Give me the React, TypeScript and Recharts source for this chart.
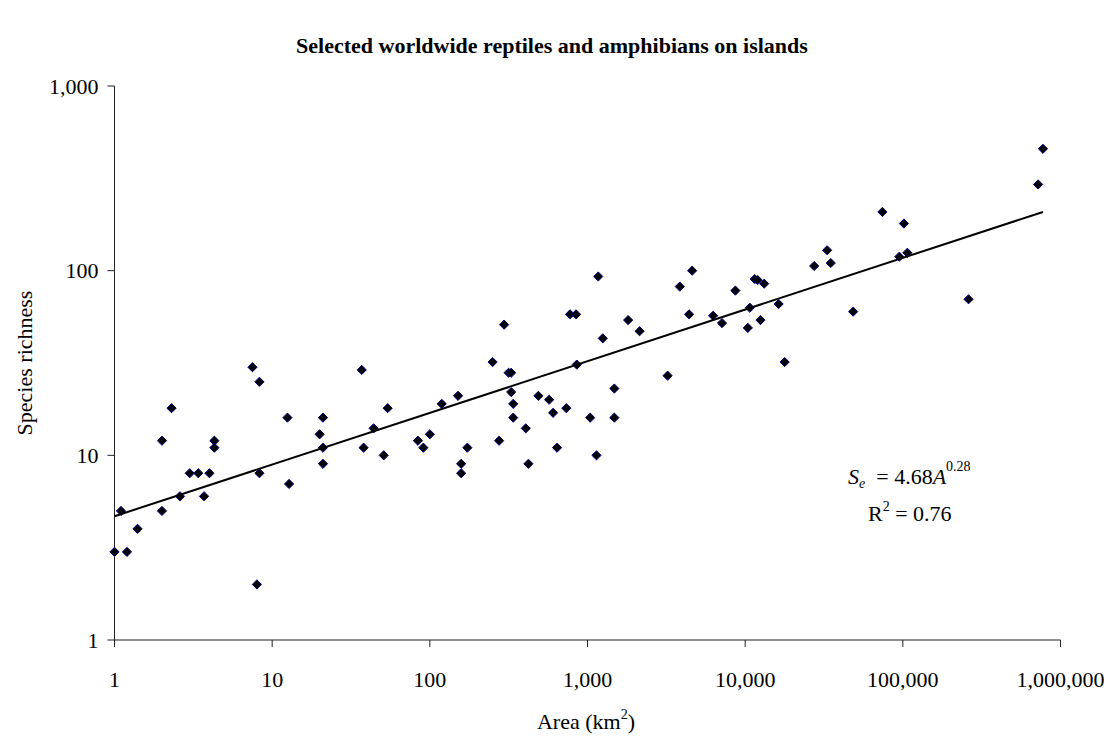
import { ScatterChart, Scatter, XAxis, YAxis, Label } from "recharts";

// island area (km2) and species richness
const areas = [
  1, 1.1, 1.2, 1.4, 2.0, 2.0, 2.3, 2.6, 3.0, 3.4, 3.7, 4.0, 4.3, 4.3, 7.5, 8.3, 8.0, 8.3,
  12.5, 12.8, 20, 21, 21, 21, 37, 38, 44, 51, 54, 84, 91, 100, 119, 151, 158, 158, 173,
  250, 275, 296, 316, 328, 328, 338, 338, 406, 422, 488, 571, 605, 641, 734, 775, 846, 855,
  1040, 1140, 1170, 1250, 1480, 1480, 1810, 2140, 3220, 3850, 4410, 4610, 6260, 7130, 8670,
  10400, 10700, 11500, 12000, 12500, 13200, 16300, 17800, 27400, 33100, 34900, 48400,
  74200, 95000, 101600, 106800, 261000, 721000, 774000,
];
const richness = [
  3, 5, 3, 4, 5, 12, 18, 6, 8, 8, 6, 8, 12, 11, 30, 25, 2, 8,
  16, 7, 13, 16, 11, 9, 29, 11, 14, 10, 18, 12, 11, 13, 19, 21, 9, 8, 11,
  32, 12, 51, 28, 28, 22, 19, 16, 14, 9, 21, 20, 17, 11, 18, 58, 58, 31,
  16, 10, 93, 43, 23, 16, 54, 47, 27, 82, 58, 100, 57, 52, 78,
  49, 63, 90, 89, 54, 85, 66, 32, 106, 129, 110, 60,
  208, 119, 180, 125, 70, 293, 457,
];

// fitted power curve endpoints (straight in log-log)
const trendAreas = [1, 774000];
const trendRichness = [4.68, 208];

const xTicks = [1, 10, 100, 1000, 10000, 100000, 1000000];
const yTicks = [1, 10, 100, 1000];

const points = areas.map((a, i) => ({ area: a, species: richness[i] }));
const trend = trendAreas.map((a, i) => ({ area: a, species: trendRichness[i] }));

const FONT = "'Liberation Serif', 'Times New Roman', serif";

const fmt = (v: number) => v.toLocaleString("en-US");

const Diamond = (props: any) => {
  const { cx, cy } = props;
  const r = 4.6;
  return (
    <path
      d={`M${cx},${cy - r}L${cx + r},${cy}L${cx},${cy + r}L${cx - r},${cy}Z`}
      fill="#000000"
      stroke="#000080"
      strokeWidth={1}
    />
  );
};

export default function App() {
  return (
    <div style={{ width: 1104, height: 730, position: "relative", fontFamily: FONT }}>
      <ScatterChart width={1104} height={730} margin={{ top: 78, right: 51.5, left: 46.5, bottom: 38 }}>
        <XAxis
          type="number"
          dataKey="area"
          scale="log"
          domain={[1, 1000000]}
          ticks={xTicks}
          interval={0}
          tickFormatter={fmt}
          height={60}
          stroke="#222"
          tickSize={7}
          tickMargin={24}
          tick={{ fill: "#000", fontSize: 22, fontFamily: FONT }}
        >
          <Label
            content={(p: any) => (
              <text x={578} y={p.viewBox.y + 89} textAnchor="middle" fontSize={22} fontFamily={FONT} fill="#000">
                Area (km<tspan fontSize={14} dy={-10}>2</tspan>
                <tspan dy={10}>)</tspan>
              </text>
            )}
          />
        </XAxis>
        <YAxis
          type="number"
          dataKey="species"
          scale="log"
          domain={[1, 1000]}
          ticks={yTicks}
          interval={0}
          tickFormatter={fmt}
          width={60}
          stroke="#222"
          tickSize={7}
          tickMargin={9}
          tick={{ fill: "#000", fontSize: 22, fontFamily: FONT }}
        >
          <Label
            content={(p: any) => {
              const cy = p.viewBox.y + p.viewBox.height / 2;
              return (
                <text
                  x={16}
                  y={cy}
                  transform={`rotate(-90, 16, ${cy})`}
                  textAnchor="middle"
                  dominantBaseline="central"
                  fontSize={22}
                  fontFamily={FONT}
                  fill="#000"
                >
                  Species richness
                </text>
              );
            }}
          />
        </YAxis>
        <Scatter data={points} shape={Diamond} isAnimationActive={false} />
        <Scatter
          data={trend}
          line={{ stroke: "#000", strokeWidth: 2 }}
          shape={() => <g />}
          isAnimationActive={false}
        />
        <text x={544} y={45} textAnchor="middle" fontSize={22} fontWeight="bold" fontFamily={FONT} fill="#000">
          Selected worldwide reptiles and amphibians on islands
        </text>
        <text x={840} y={476} fontSize={22} fontFamily={FONT} fill="#000">
          <tspan fontStyle="italic">S</tspan>
          <tspan fontStyle="italic" fontSize={14} dy={4}>e</tspan>
          <tspan dy={-4}>{"\u00a0 = 4.68"}</tspan>
          <tspan fontStyle="italic">A</tspan>
          <tspan fontSize={14} dy={-13}>0.28</tspan>
        </text>
        <text x={860} y={513} fontSize={22} fontFamily={FONT} fill="#000">
          R<tspan fontSize={14} dy={-10}>2</tspan>
          <tspan dy={10}> = 0.76</tspan>
        </text>
      </ScatterChart>
    </div>
  );
}
